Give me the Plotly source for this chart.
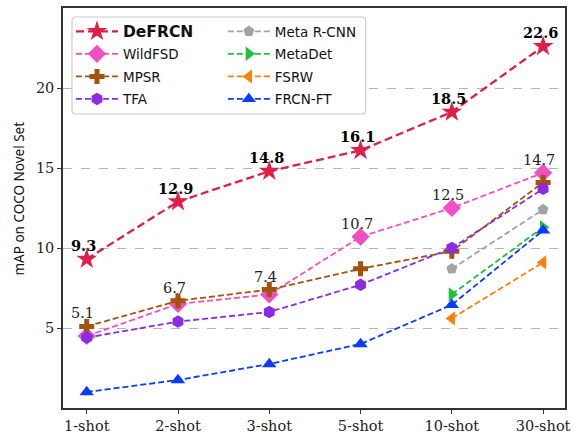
import plotly.graph_objects as go

shots = ["1-shot", "2-shot", "3-shot", "5-shot", "10-shot", "30-shot"]
defrcn = [9.3, 12.9, 14.8, 16.1, 18.5, 22.6]
wildfsd = [4.5, 6.5, 7.1, 10.7, 12.5, 14.7]
mpsr = [5.1, 6.7, 7.4, 8.7, 9.8, 14.1]
tfa = [4.4, 5.4, 6.0, 7.7, 10.0, 13.7]
meta_rcnn = [None, None, None, None, 8.7, 12.4]
metadet = [None, None, None, None, 7.1, 11.3]
fsrw = [None, None, None, None, 5.6, 9.1]
frcn_ft = [1.0, 1.75, 2.75, 4.0, 6.45, 11.1]
other_best_labels = ["5.1", "6.7", "7.4", "10.7", "12.5", "14.7"]
other_best_values = [5.1, 6.7, 7.4, 10.7, 12.5, 14.7]

xs = list(range(len(shots)))

series = [
    ("<span style='font-size:15.5px'><b>DeFRCN</b></span>", defrcn, "#DE1F48", "star", 15.5, "legend", 2.3, "8px,4px"),
    ("WildFSD", wildfsd, "#F050C4", "diamond", 14, "legend", 1.8, "6px,3px"),
    ("MPSR", mpsr, "#A4520F", "cross", 12.5, "legend", 1.8, "6px,3px"),
    ("TFA", tfa, "#8B2BE2", "hexagon", 12.5, "legend", 1.8, "6px,3px"),
    ("Meta R-CNN", meta_rcnn, "#A3A3A3", "pentagon", 11.5, "legend2", 1.8, "6px,3px"),
    ("MetaDet", metadet, "#22C03A", "triangle-right", 12.5, "legend2", 1.8, "6px,3px"),
    ("FSRW", fsrw, "#FF7F0E", "triangle-left", 12.5, "legend2", 1.8, "6px,3px"),
    ("FRCN-FT", frcn_ft, "#0A3BFF", "triangle-up", 12.5, "legend2", 1.8, "6px,3px"),
]

fig = go.Figure()
for i, (name, vals, color, sym, size, leg, lw, dash) in enumerate(series):
    fig.add_trace(go.Scatter(
        x=xs, y=vals, name=name, mode="lines+markers",
        line=dict(color=color, width=lw, dash=dash),
        marker=dict(symbol=sym, size=size, color=color, line=dict(width=0)),
        legend=leg, legendgroup=f"g{i}", connectgaps=False,
    ))

serif = "DejaVu Serif"
for x, v in zip(xs, defrcn):
    fig.add_annotation(x=x, y=v, text=f"<b>{v}</b>", showarrow=False,
                       yanchor="bottom", yshift=3, xshift=-3,
                       font=dict(family=serif, size=14.5, color="black"))
for x, v, t in zip(xs, other_best_values, other_best_labels):
    fig.add_annotation(x=x, y=v, text=t, showarrow=False,
                       yanchor="bottom", yshift=3, xshift=-4,
                       font=dict(family=serif, size=14.5, color="#222"))

W, H = 502.5, 400.0
def px(xp):
    return (xp - 63) / W
def py(yp):
    return (408 - yp) / H

# y-axis title as a rotated annotation
fig.add_annotation(x=px(19), y=py(198.5), xref="paper", yref="paper",
                   text="mAP on COCO Novel Set", textangle=-90, showarrow=False,
                   xanchor="center", yanchor="middle",
                   font=dict(family="Noto Sans", size=13.5, color="#111"))

x0, x1, y0, y1 = px(72), px(366), py(114), py(17)
rx, ry = 4 / W, 4 / H
path = (f"M {x0+rx},{y0} L {x1-rx},{y0} Q {x1},{y0} {x1},{y0+ry} "
        f"L {x1},{y1-ry} Q {x1},{y1} {x1-rx},{y1} L {x0+rx},{y1} "
        f"Q {x0},{y1} {x0},{y1-ry} L {x0},{y0+ry} Q {x0},{y0} {x0+rx},{y0} Z")
fig.add_shape(type="path", path=path, xref="paper", yref="paper",
              line=dict(color="#CCCCCC", width=1.2), fillcolor="white", layer="above")

legfont = dict(family="DejaVu Sans", size=13.5, color="#111")
fig.update_layout(
    width=573, height=435,
    margin=dict(l=63, r=7.5, t=8, b=27, autoexpand=False),
    plot_bgcolor="white", paper_bgcolor="white",
    legend=dict(x=px(71), y=py(16), xanchor="left", yanchor="top",
                bgcolor="rgba(0,0,0,0)", font=legfont, tracegroupgap=2, itemwidth=42),
    legend2=dict(x=px(223), y=py(16), xanchor="left", yanchor="top",
                 bgcolor="rgba(0,0,0,0)", font=legfont, tracegroupgap=2, itemwidth=42),
    xaxis=dict(range=[-0.26, 5.24], tickvals=xs, ticktext=shots,
               showgrid=False, zeroline=False, showline=True, linecolor="#333",
               linewidth=1.5, mirror=True, ticks="outside", ticklen=4, tickcolor="#333",
               tickfont=dict(family=serif, size=14.5, color="#222")),
    yaxis=dict(range=[0, 25], tickvals=[5, 10, 15, 20],
               showgrid=True, gridcolor="#B5B5B5", griddash="dash", gridwidth=1,
               zeroline=False, showline=True, linecolor="#333",
               linewidth=1.5, mirror=True, ticks="outside", ticklen=4, tickcolor="#333",
               tickfont=dict(family=serif, size=14.5, color="#222")),
)

fig.write_html("out.html", config={"displayModeBar": False},
               post_script="document.body.style.margin='0';document.body.style.overflow='hidden';")
